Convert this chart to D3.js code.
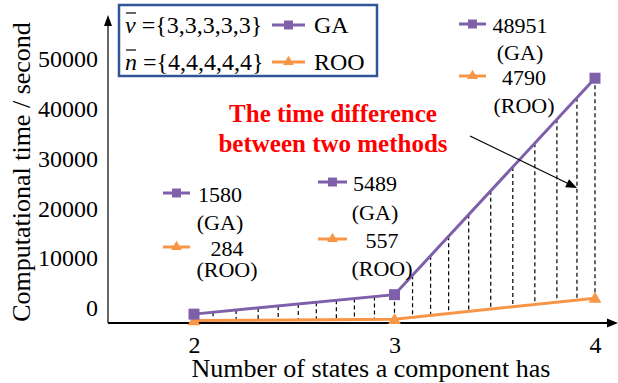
<!DOCTYPE html>
<html>
<head>
<meta charset="utf-8">
<script src="https://cdn.jsdelivr.net/npm/d3@7"></script>
</head>
<body style="margin:0;background:#fff">
<div class="chart"></div>
<script>
// data
const states = [2, 3, 4];
const gaTime = [1580, 5489, 48951];
const rooTime = [284, 557, 4790];
const yTicks = [0, 10000, 20000, 30000, 40000, 50000];
// x positions (in "states" units) of the dashed difference lines
const hatchAt = [2.095, 2.21, 2.32, 2.42, 2.52, 2.61, 2.71, 2.80, 2.90, 3.0,
                 3.09, 3.18, 3.27, 3.37, 3.48, 3.59, 3.70, 3.81, 3.91, 4.0];
const vSet = '{3,3,3,3,3}';
const nSet = '{4,4,4,4,4}';

const width = 618, height = 383;
const serif = 'Liberation Serif';
const purple = '#7F5FAA', orange = '#F79646', frame = '#2F5597';

let svg = d3.select('.chart').append('svg')
    .attr('width', width)
    .attr('height', height)
    .style('display', 'block');

const x = d3.scaleLinear().domain([2, 4]).range([194, 595]);
const y = d3.scaleLinear().domain([0, 50000]).range([322, 73]);
const axisX = 108, axisY = 323;

// interpolators for the hatch lines
const gaAt = d3.scaleLinear().domain(states).range(gaTime);
const rooAt = d3.scaleLinear().domain(states).range(rooTime);

function label(g, px, py, str, size) {
    return g.append('text')
        .attr('x', px).attr('y', py)
        .attr('font-family', serif)
        .attr('font-size', size)
        .attr('fill', '#000')
        .text(str);
}

// y axis labels (they sit a bit above the true grid in the original)
let Y = svg.append('g')
    .attr('transform', `translate(${axisX},0)`)
    .call(d3.axisLeft(y).tickValues(yTicks).tickSize(0).tickPadding(10).tickFormat(d3.format('d')));
Y.select('.domain').remove();
Y.selectAll('text').attr('y', -14).attr('fill', '#000')
    .attr('font-family', serif).attr('font-size', 24);

let X = svg.append('g')
    .attr('transform', `translate(0,${axisY})`)
    .call(d3.axisBottom(x).tickValues(states).tickSize(0).tickPadding(13).tickFormat(d3.format('d')));
X.select('.domain').remove();
X.selectAll('text').attr('fill', '#000')
    .attr('font-family', serif).attr('font-size', 24);

// axis lines with arrow heads
svg.append('line').attr('x1', axisX).attr('y1', axisY).attr('x2', axisX).attr('y2', 22)
    .attr('stroke', '#333').attr('stroke-width', 1.5);
svg.append('path').attr('d', `M${axisX},15 L${axisX - 4},26 L${axisX + 4},26 Z`).attr('fill', '#000');
svg.append('line').attr('x1', axisX).attr('y1', axisY).attr('x2', 610).attr('y2', axisY)
    .attr('stroke', '#000').attr('stroke-width', 2);
svg.append('path').attr('d', `M618,${axisY} L607,${axisY - 4.5} L607,${axisY + 4.5} Z`).attr('fill', '#000');

label(svg, 371, 377, 'Number of states a component has', 26)
    .attr('text-anchor', 'middle');

label(svg, 0, 0, 'Computational time / second', 26)
    .attr('transform', 'translate(30,172) rotate(-90)')
    .attr('text-anchor', 'middle');

// dashed difference lines
svg.append('g').selectAll('line')
    .data(hatchAt)
    .enter()
    .append('line')
    .attr('x1', d => x(d)).attr('x2', d => x(d))
    .attr('y1', d => y(gaAt(d))).attr('y2', d => y(rooAt(d)))
    .attr('stroke', '#000').attr('stroke-width', 1.2)
    .attr('stroke-dasharray', '4,3');

const gaData = states.map((s, i) => ({s: s, v: gaTime[i]}));
const rooData = states.map((s, i) => ({s: s, v: rooTime[i]}));

const line = d3.line().x(d => x(d.s)).y(d => y(d.v));

svg.append('path').datum(rooData).attr('d', line)
    .attr('fill', 'none').attr('stroke', orange).attr('stroke-width', 3);
svg.append('path').datum(gaData).attr('d', line)
    .attr('fill', 'none').attr('stroke', purple).attr('stroke-width', 3);

const square = d3.symbol().type(d3.symbolSquare).size(121);
const tri = d3.symbol().type(d3.symbolTriangle).size(70);

svg.append('g').selectAll('path')
    .data(rooData).enter().append('path')
    .attr('d', tri)
    .attr('transform', d => `translate(${x(d.s)},${y(d.v) + 1})`)
    .attr('fill', orange);
svg.append('g').selectAll('path')
    .data(gaData).enter().append('path')
    .attr('d', square)
    .attr('transform', d => `translate(${x(d.s)},${y(d.v)})`)
    .attr('fill', purple);

// small line+marker icon, like a legend key
function key(g, x0, x1, cy, color, sym, size) {
    g.append('line').attr('x1', x0).attr('x2', x1).attr('y1', cy).attr('y2', cy)
        .attr('stroke', color).attr('stroke-width', 3);
    g.append('path').attr('d', d3.symbol().type(sym).size(size))
        .attr('transform', `translate(${(x0 + x1) / 2},${cy})`)
        .attr('fill', color);
}

// value annotations
const notes = [
    {x0: 163, x1: 190, gx: 220, rx: 227, gy: 194, gt: 222, ry: 248, rt: 269},
    {x0: 318, x1: 347, gx: 375, rx: 382, gy: 183, gt: 212, ry: 240, rt: 268},
    {x0: 459, x1: 486, gx: 520, rx: 524, gy: 25, gt: 52, ry: 77, rt: 105}
];
let ann = svg.append('g');
notes.forEach((n, i) => {
    key(ann, n.x0, n.x1, n.gy - 1, purple, d3.symbolSquare, 80);
    key(ann, n.x0, n.x1, n.ry - 1, orange, d3.symbolTriangle, 50);
    const t = [[n.gx, n.gy, gaTime[i]], [n.gx, n.gt, '(GA)'], [n.rx, n.ry, rooTime[i]], [n.rx, n.rt, '(ROO)']];
    t.forEach(r => {
        label(ann, r[0], r[1], r[2], 22)
            .attr('dy', '0.35em')
            .attr('text-anchor', 'middle');
    });
});

// red note and its arrow
['The time difference', 'between two methods'].forEach((s, i) => {
    label(svg, 333, 113 + i * 30, s, 25)
        .attr('dy', '0.35em')
        .attr('text-anchor', 'middle')
        .attr('font-weight', 'bold')
        .attr('fill', '#FF0000');
});

const ax0 = 470, ay0 = 136, ax1 = 577, ay1 = 188;
const ang = Math.atan2(ay1 - ay0, ax1 - ax0) * 180 / Math.PI;
svg.append('line').attr('x1', ax0).attr('y1', ay0).attr('x2', ax1 - 8).attr('y2', ay1 - 4)
    .attr('stroke', '#000').attr('stroke-width', 1.2);
svg.append('path').attr('d', 'M0,0 L-11,-4.5 L-11,4.5 Z')
    .attr('transform', `translate(${ax1},${ay1}) rotate(${ang})`)
    .attr('fill', '#000');

// legend box
let leg = svg.append('g');
leg.append('rect').attr('x', 119).attr('y', 5).attr('width', 258).attr('height', 71)
    .attr('fill', '#fff').attr('stroke', frame).attr('stroke-width', 2.5);

[[25, 'v', vSet], [62, 'n', nSet]].forEach(r => {
    let t = label(leg, 125, r[0], null, 24).attr('dy', '0.35em');
    t.append('tspan').attr('font-style', 'italic').text(r[1]);
    t.append('tspan').text(' =' + r[2]);
    leg.append('line').attr('x1', 126).attr('x2', 136).attr('y1', r[0] - 12).attr('y2', r[0] - 12)
        .attr('stroke', '#000').attr('stroke-width', 1.2);
});
key(leg, 272, 305, 25, purple, d3.symbolSquare, 80);
key(leg, 272, 305, 62, orange, d3.symbolTriangle, 50);
label(leg, 314, 25, 'GA', 24).attr('dy', '0.35em');
label(leg, 314, 62, 'ROO', 24).attr('dy', '0.35em');
</script>
</body>
</html>
